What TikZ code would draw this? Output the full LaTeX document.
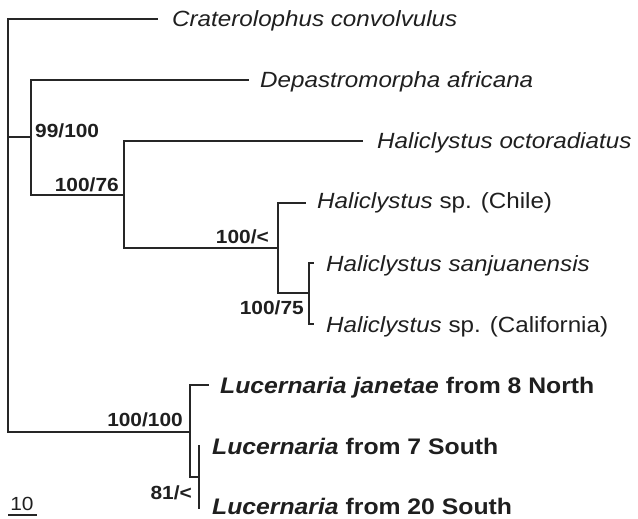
\documentclass[tikz,border=0pt]{standalone}
\usepackage{fontspec}
\setmainfont[FakeStretch=1.1]{Liberation Sans}
\begin{document}
\begin{tikzpicture}[x=1pt,y=-1pt,
  branch/.style={draw=black!85,line width=1.5pt,line cap=rect},
  taxon/.style={anchor=base west,inner sep=0pt,text=black!88,font=\fontsize{22}{24}\selectfont},
  ltaxon/.style={anchor=base west,inner sep=0pt,text=black!88,font=\fontsize{22.5}{26}\selectfont\bfseries},
  support/.style={inner sep=0pt,text=black!88,font=\fontsize{19}{22}\selectfont\bfseries},
  scalelab/.style={inner sep=0pt,anchor=base,text=black!88,font=\fontsize{19}{22}\selectfont}]
\useasboundingbox (0,0) rectangle (638,519);
% coordinates
\coordinate (rt) at (8,19);
\coordinate (rb) at (8,432);
\coordinate (rm) at (8,137);
\coordinate (n1) at (31,137);
\coordinate (n1t) at (31,80);
\coordinate (n1b) at (31,195);
\coordinate (n2) at (124,195);
\coordinate (n2t) at (124,141);
\coordinate (n2b) at (124,248);
\coordinate (n3) at (278,248);
\coordinate (n3t) at (278,203);
\coordinate (n3b) at (278,293);
\coordinate (n4) at (309,293);
\coordinate (n4t) at (309,263);
\coordinate (n4b) at (309,324);
\coordinate (n5) at (190,432);
\coordinate (n5t) at (190,385);
\coordinate (n5b) at (190,477);
\coordinate (n6) at (199,477);
\coordinate (n6t) at (199,446);
\coordinate (n6b) at (199,508);
% tip ends
\coordinate (eCrat) at (157,19);
\coordinate (eDep) at (248,80);
\coordinate (eHoct) at (362,141);
\coordinate (eChile) at (305,203);
\coordinate (eSan) at (313,263);
\coordinate (eCal) at (313,324);
\coordinate (eJan) at (208,385);
% taxa
\node[taxon] (tCrat) at (172,27) {\itshape Craterolophus convolvulus};
\node[taxon] (tDep) at (260,88) {\itshape Depastromorpha africana};
\node[taxon] (tHoct) at (377,149) {\itshape Haliclystus octoradiatus};
\node[taxon] (tChile) at (317,208) {\textit{Haliclystus} sp. (Chile)};
\node[taxon] (tSan) at (326,271) {\itshape Haliclystus sanjuanensis};
\node[taxon] (tCal) at (326,332) {\textit{Haliclystus} sp. (California)};
\node[ltaxon] (tJan) at (220,393) {\textit{Lucernaria janetae} from 8 North};
\node[ltaxon] (tS7) at (212,454) {\textit{Lucernaria} from 7 South};
\node[ltaxon] (tS20) at (212,514) {\textit{Lucernaria} from 20 South};
% support values
\node[support,anchor=west] (s1) at (35,131) {99/100};
\node[support,anchor=east] (s2) at (119,185) {100/76};
\node[support,anchor=east] (s3) at (269,237) {100/<};
\node[support,anchor=east] (s4) at (304,308) {100/75};
\node[support,anchor=east] (s5) at (183,420) {100/100};
\node[support,anchor=east] (s6) at (192,493) {81/<};
% branches
\draw[branch] (eCrat) -- (rt) -- (rb);
\draw[branch] (rm) -- (n1);
\draw[branch] (eDep) -- (n1t) -- (n1b) -- (n2);
\draw[branch] (eHoct) -- (n2t) -- (n2b) -- (n3);
\draw[branch] (eChile) -- (n3t) -- (n3b) -- (n4);
\draw[branch] (eSan) -- (n4t) -- (n4b) -- (eCal);
\draw[branch] (rb) -- (n5);
\draw[branch] (eJan) -- (n5t) -- (n5b) -- (n6);
\draw[branch] (n6t) -- (n6b);
% scale bar
\coordinate (sbL) at (8,515);
\coordinate (sbR) at (37,515);
\draw[draw=black!85,line width=1.2pt] (sbL) -- (sbR);
\node[scalelab] (sb) at (22,510) {10};
\end{tikzpicture}
\end{document}
